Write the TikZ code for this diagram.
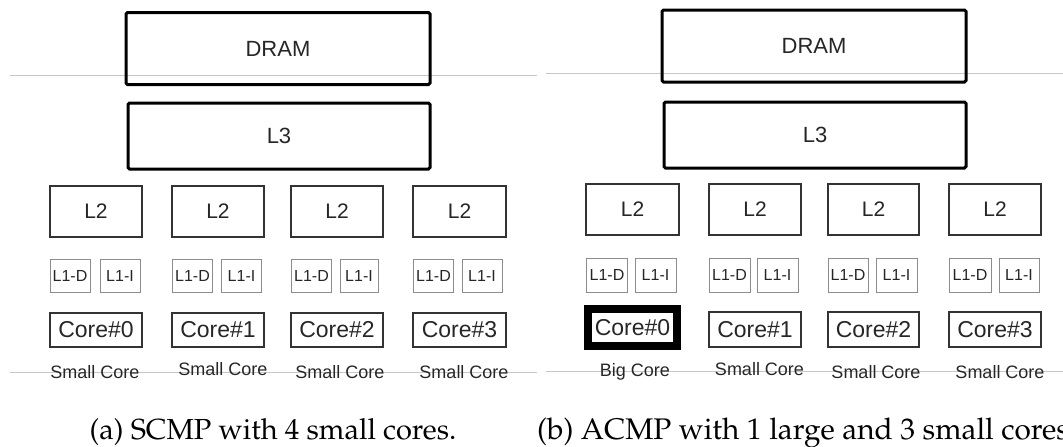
\documentclass[tikz,border=0pt]{standalone}
\usepackage[T1]{fontenc}
\usepackage{fontspec}
\setsansfont{Liberation Sans}
\tikzset{
  big/.style={draw=black, line width=3pt, rounded corners=1.5pt, inner sep=0pt, text=black!85,
    font=\sffamily\fontsize{22}{26}\selectfont},
  mid/.style={draw=black!80, line width=1.5pt, inner sep=0pt, text=black!85,
    font=\sffamily\fontsize{21}{25}\selectfont},
  corebox/.style={draw=black!80, line width=1.5pt, inner sep=0pt, text=black!85,
    font=\sffamily\fontsize{23}{27}\selectfont},
  lone/.style={draw=black!45, line width=1pt, inner sep=0pt, text=black!85,
    font=\sffamily\fontsize{16}{19}\selectfont},
  lbl/.style={inner sep=0pt, text=black!85, font=\sffamily\fontsize{18}{21}\selectfont},
  greyrule/.style={draw=black!22, line width=1pt},
  captext/.style={inner sep=0pt, text=black, font=\usefont{T1}{ppl}{m}{n}\fontsize{29}{33}\selectfont}
}
\begin{document}
\begin{tikzpicture}[x=1pt,y=-1pt]
\useasboundingbox (0,0) rectangle (1063,447);
\clip (0,0) rectangle (1063,447);
% grey rules
\coordinate (ra1) at (10,75);  \coordinate (ra2) at (537,75);
\coordinate (rb1) at (546,73); \coordinate (rb2) at (1063,73);
\coordinate (rc1) at (10,372); \coordinate (rc2) at (537,372);
\coordinate (rd1) at (546,371); \coordinate (rd2) at (1063,371);
\draw[greyrule] (ra1) -- (ra2);
\draw[greyrule] (rb1) -- (rb2);
\draw[greyrule] (rc1) -- (rc2);
\draw[greyrule] (rd1) -- (rd2);

% ---------- panel (a)
\node[big, minimum width=304pt, minimum height=72pt] (dramA) at (278,48.5) {DRAM};
\node[big, minimum width=302pt, minimum height=66pt] (l3A) at (279,136) {L3};
\node[mid, minimum width=92pt, minimum height=51pt] (l2A0) at (96,211.5) {L2};
\node[mid, minimum width=92pt, minimum height=51pt] (l2A1) at (218,211.5) {L2};
\node[mid, minimum width=92pt, minimum height=51pt] (l2A2) at (337,211.5) {L2};
\node[mid, minimum width=93pt, minimum height=51pt] (l2A3) at (459.5,211.5) {L2};
\node[lone, minimum width=40pt, minimum height=33pt] (ldA0) at (70,275.5) {L1-D};
\node[lone, minimum width=40pt, minimum height=33pt] (liA0) at (120,275.5) {L1-I};
\node[lone, minimum width=40pt, minimum height=33pt] (ldA1) at (192.5,275.5) {L1-D};
\node[lone, minimum width=40pt, minimum height=33pt] (liA1) at (241.5,275.5) {L1-I};
\node[lone, minimum width=40pt, minimum height=33pt] (ldA2) at (311.5,275.5) {L1-D};
\node[lone, minimum width=38pt, minimum height=33pt] (liA2) at (359,275.5) {L1-I};
\node[lone, minimum width=40pt, minimum height=33pt] (ldA3) at (433.5,275.5) {L1-D};
\node[lone, minimum width=40pt, minimum height=33pt] (liA3) at (482,275.5) {L1-I};
\node[corebox, minimum width=92pt, minimum height=34pt] (cA0) at (96,330) {Core\#0};
\node[corebox, minimum width=92pt, minimum height=34pt] (cA1) at (218,330) {Core\#1};
\node[corebox, minimum width=92pt, minimum height=34pt] (cA2) at (337,330) {Core\#2};
\node[corebox, minimum width=93pt, minimum height=34pt] (cA3) at (459.5,330) {Core\#3};
\node[lbl] (tA0) at (95,372) {Small Core};
\node[lbl] (tA1) at (223,369) {Small Core};
\node[lbl] (tA2) at (340,372) {Small Core};
\node[lbl] (tA3) at (464,372) {Small Core};
\node[captext, anchor=base] (capA) at (273,439) {(a) SCMP with 4 small cores.};

% ---------- panel (b)
\node[big, minimum width=304pt, minimum height=72pt] (dramB) at (814,46) {DRAM};
\node[big, minimum width=302pt, minimum height=66pt] (l3B) at (815,135) {L3};
\node[mid, minimum width=93pt, minimum height=51pt] (l2B0) at (632.5,209.5) {L2};
\node[mid, minimum width=92pt, minimum height=51pt] (l2B1) at (755,209.5) {L2};
\node[mid, minimum width=91pt, minimum height=51pt] (l2B2) at (873.5,209.5) {L2};
\node[mid, minimum width=92pt, minimum height=51pt] (l2B3) at (995,209.5) {L2};
\node[lone, minimum width=41pt, minimum height=34pt] (ldB0) at (607,275) {L1-D};
\node[lone, minimum width=41pt, minimum height=34pt] (liB0) at (655.5,275) {L1-I};
\node[lone, minimum width=41pt, minimum height=34pt] (ldB1) at (729.5,275) {L1-D};
\node[lone, minimum width=41pt, minimum height=34pt] (liB1) at (777.5,275) {L1-I};
\node[lone, minimum width=40pt, minimum height=34pt] (ldB2) at (848,275) {L1-D};
\node[lone, minimum width=41pt, minimum height=34pt] (liB2) at (896.5,275) {L1-I};
\node[lone, minimum width=42pt, minimum height=34pt] (ldB3) at (970,275) {L1-D};
\node[lone, minimum width=40pt, minimum height=34pt] (liB3) at (1019,275) {L1-I};
\node[corebox, draw=black, line width=8.5pt, minimum width=89pt, minimum height=37pt] (cB0) at (632.5,327.5) {Core\#0};
\node[corebox, minimum width=92pt, minimum height=35pt] (cB1) at (755,329.5) {Core\#1};
\node[corebox, minimum width=91pt, minimum height=35pt] (cB2) at (873.5,329.5) {Core\#2};
\node[corebox, minimum width=92pt, minimum height=35pt] (cB3) at (995,329.5) {Core\#3};
\node[lbl] (tB0) at (635,372) {Big Core};
\node[lbl] (tB1) at (759.5,369) {Small Core};
\node[lbl] (tB2) at (876,372) {Small Core};
\node[lbl] (tB3) at (1000,372) {Small Core};
\node[captext, anchor=base west, font=\usefont{T1}{ppl}{m}{n}\fontsize{29.8}{34}\selectfont] (capB) at (537,439) {(b) ACMP with 1 large and 3 small cores.};
\end{tikzpicture}
\end{document}
